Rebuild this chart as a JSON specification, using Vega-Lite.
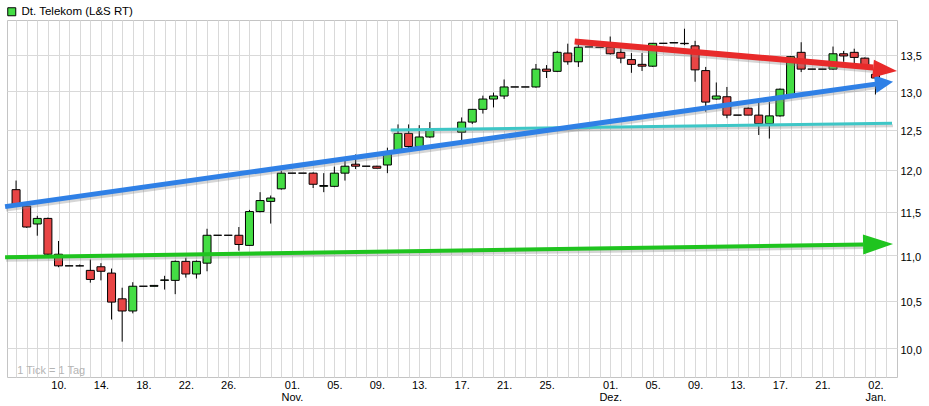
{
  "$schema": "https://vega.github.io/schema/vega-lite/v6.json",
  "width": 890,
  "height": 357,
  "autosize": {"type": "none"},
  "padding": {"left": 7, "top": 20, "right": 32, "bottom": 29},
  "background": "white",
  "config": {
    "view": {"stroke": "#c4c4c4", "strokeWidth": 1},
    "axis": {"labelFont": "Liberation Sans", "labelFontSize": 11, "labelColor": "#000000", "gridColor": "#d9d9d9", "gridWidth": 1, "domain": false, "ticks": false},
    "legend": {"labelFont": "Liberation Sans", "labelFontSize": 11, "labelColor": "#000000"}
  },
  "datasets": {
    "candles": [
      {"i": 0, "d": "2014-10-06", "o": 11.76, "h": 11.87, "l": 11.56, "c": 11.57},
      {"i": 1, "d": "2014-10-07", "o": 11.565, "h": 11.6, "l": 11.31, "c": 11.32},
      {"i": 2, "d": "2014-10-08", "o": 11.355, "h": 11.45, "l": 11.22, "c": 11.42},
      {"i": 3, "d": "2014-10-09", "o": 11.42, "h": 11.43, "l": 11.0, "c": 11.01},
      {"i": 4, "d": "2014-10-10", "o": 11.01, "h": 11.16, "l": 10.865, "c": 10.88},
      {"i": 5, "d": "2014-10-11", "o": 10.88, "h": 10.88, "l": 10.88, "c": 10.88},
      {"i": 6, "d": "2014-10-12", "o": 10.88, "h": 10.895, "l": 10.875, "c": 10.88},
      {"i": 7, "d": "2014-10-13", "o": 10.83, "h": 10.95, "l": 10.695, "c": 10.73},
      {"i": 8, "d": "2014-10-14", "o": 10.87, "h": 10.91, "l": 10.72, "c": 10.82},
      {"i": 9, "d": "2014-10-15", "o": 10.8, "h": 10.85, "l": 10.3, "c": 10.485},
      {"i": 10, "d": "2014-10-16", "o": 10.52, "h": 10.64, "l": 10.07, "c": 10.39},
      {"i": 11, "d": "2014-10-17", "o": 10.39, "h": 10.7, "l": 10.365, "c": 10.656},
      {"i": 12, "d": "2014-10-18", "o": 10.656, "h": 10.656, "l": 10.656, "c": 10.656},
      {"i": 13, "d": "2014-10-19", "o": 10.655, "h": 10.665, "l": 10.655, "c": 10.665},
      {"i": 14, "d": "2014-10-20", "o": 10.72, "h": 10.77, "l": 10.62, "c": 10.725},
      {"i": 15, "d": "2014-10-21", "o": 10.72, "h": 10.94, "l": 10.57, "c": 10.93},
      {"i": 16, "d": "2014-10-22", "o": 10.93, "h": 10.97, "l": 10.75, "c": 10.79},
      {"i": 17, "d": "2014-10-23", "o": 10.79, "h": 10.94, "l": 10.74, "c": 10.93},
      {"i": 18, "d": "2014-10-24", "o": 10.91, "h": 11.3, "l": 10.82, "c": 11.225},
      {"i": 19, "d": "2014-10-25", "o": 11.225, "h": 11.225, "l": 11.225, "c": 11.225},
      {"i": 20, "d": "2014-10-26", "o": 11.225, "h": 11.225, "l": 11.225, "c": 11.225},
      {"i": 21, "d": "2014-10-27", "o": 11.225, "h": 11.32, "l": 11.05, "c": 11.12},
      {"i": 22, "d": "2014-10-28", "o": 11.11, "h": 11.52, "l": 11.11, "c": 11.5},
      {"i": 23, "d": "2014-10-29", "o": 11.5, "h": 11.73, "l": 11.49, "c": 11.63},
      {"i": 24, "d": "2014-10-30", "o": 11.62, "h": 11.69, "l": 11.36, "c": 11.66},
      {"i": 25, "d": "2014-10-31", "o": 11.77, "h": 11.99, "l": 11.76, "c": 11.96},
      {"i": 26, "d": "2014-11-01", "o": 11.96, "h": 11.96, "l": 11.96, "c": 11.96},
      {"i": 27, "d": "2014-11-02", "o": 11.96, "h": 11.96, "l": 11.96, "c": 11.96},
      {"i": 28, "d": "2014-11-03", "o": 11.96, "h": 11.97, "l": 11.78, "c": 11.825},
      {"i": 29, "d": "2014-11-04", "o": 11.8, "h": 11.96, "l": 11.73, "c": 11.81},
      {"i": 30, "d": "2014-11-05", "o": 11.8, "h": 12.04, "l": 11.79, "c": 11.96},
      {"i": 31, "d": "2014-11-06", "o": 11.96, "h": 12.11, "l": 11.87, "c": 12.045},
      {"i": 32, "d": "2014-11-07", "o": 12.07, "h": 12.19, "l": 12.01, "c": 12.045},
      {"i": 33, "d": "2014-11-08", "o": 12.045, "h": 12.045, "l": 12.045, "c": 12.045},
      {"i": 34, "d": "2014-11-09", "o": 12.045, "h": 12.05, "l": 12.02, "c": 12.02},
      {"i": 35, "d": "2014-11-10", "o": 12.06, "h": 12.275, "l": 11.96, "c": 12.22},
      {"i": 36, "d": "2014-11-11", "o": 12.23, "h": 12.57, "l": 12.22, "c": 12.455},
      {"i": 37, "d": "2014-11-12", "o": 12.455, "h": 12.57, "l": 12.27, "c": 12.29},
      {"i": 38, "d": "2014-11-13", "o": 12.29, "h": 12.56, "l": 12.28, "c": 12.41},
      {"i": 39, "d": "2014-11-14", "o": 12.41, "h": 12.6, "l": 12.4, "c": 12.5},
      {"i": 40, "d": "2014-11-15", "o": 12.505, "h": 12.505, "l": 12.505, "c": 12.505},
      {"i": 41, "d": "2014-11-16", "o": 12.505, "h": 12.505, "l": 12.505, "c": 12.505},
      {"i": 42, "d": "2014-11-17", "o": 12.47, "h": 12.66, "l": 12.35, "c": 12.6},
      {"i": 43, "d": "2014-11-18", "o": 12.6, "h": 12.77, "l": 12.575, "c": 12.765},
      {"i": 44, "d": "2014-11-19", "o": 12.765, "h": 12.945, "l": 12.71, "c": 12.9},
      {"i": 45, "d": "2014-11-20", "o": 12.9, "h": 12.985, "l": 12.79, "c": 12.94},
      {"i": 46, "d": "2014-11-21", "o": 12.94, "h": 13.16, "l": 12.9, "c": 13.06},
      {"i": 47, "d": "2014-11-22", "o": 13.06, "h": 13.06, "l": 13.06, "c": 13.06},
      {"i": 48, "d": "2014-11-23", "o": 13.06, "h": 13.06, "l": 13.06, "c": 13.06},
      {"i": 49, "d": "2014-11-24", "o": 13.06, "h": 13.37, "l": 13.05, "c": 13.3},
      {"i": 50, "d": "2014-11-25", "o": 13.3, "h": 13.355, "l": 13.18, "c": 13.27},
      {"i": 51, "d": "2014-11-26", "o": 13.27, "h": 13.55, "l": 13.26, "c": 13.53},
      {"i": 52, "d": "2014-11-27", "o": 13.52, "h": 13.65, "l": 13.36, "c": 13.4},
      {"i": 53, "d": "2014-11-28", "o": 13.4, "h": 13.655, "l": 13.33, "c": 13.6},
      {"i": 54, "d": "2014-11-29", "o": 13.605, "h": 13.605, "l": 13.605, "c": 13.605},
      {"i": 55, "d": "2014-11-30", "o": 13.6, "h": 13.6, "l": 13.6, "c": 13.6},
      {"i": 56, "d": "2014-12-01", "o": 13.6, "h": 13.75, "l": 13.5, "c": 13.51},
      {"i": 57, "d": "2014-12-02", "o": 13.53, "h": 13.585, "l": 13.38, "c": 13.45},
      {"i": 58, "d": "2014-12-03", "o": 13.43, "h": 13.52, "l": 13.25, "c": 13.365},
      {"i": 59, "d": "2014-12-04", "o": 13.365, "h": 13.52, "l": 13.275, "c": 13.34},
      {"i": 60, "d": "2014-12-05", "o": 13.34, "h": 13.66, "l": 13.33, "c": 13.655},
      {"i": 61, "d": "2014-12-06", "o": 13.655, "h": 13.655, "l": 13.655, "c": 13.655},
      {"i": 62, "d": "2014-12-07", "o": 13.66, "h": 13.665, "l": 13.66, "c": 13.665},
      {"i": 63, "d": "2014-12-08", "o": 13.655, "h": 13.86, "l": 13.63, "c": 13.65},
      {"i": 64, "d": "2014-12-09", "o": 13.62, "h": 13.69, "l": 13.13, "c": 13.29},
      {"i": 65, "d": "2014-12-10", "o": 13.28, "h": 13.33, "l": 12.735, "c": 12.86},
      {"i": 66, "d": "2014-12-11", "o": 12.9, "h": 13.12, "l": 12.89, "c": 12.94},
      {"i": 67, "d": "2014-12-12", "o": 12.93, "h": 13.06, "l": 12.65, "c": 12.69},
      {"i": 68, "d": "2014-12-13", "o": 12.69, "h": 12.69, "l": 12.69, "c": 12.69},
      {"i": 69, "d": "2014-12-14", "o": 12.78, "h": 12.79, "l": 12.69, "c": 12.69},
      {"i": 70, "d": "2014-12-15", "o": 12.69, "h": 12.86, "l": 12.435, "c": 12.58},
      {"i": 71, "d": "2014-12-16", "o": 12.58, "h": 12.86, "l": 12.39, "c": 12.68},
      {"i": 72, "d": "2014-12-17", "o": 12.68, "h": 13.04, "l": 12.67, "c": 13.03},
      {"i": 73, "d": "2014-12-18", "o": 12.95, "h": 13.48, "l": 12.94, "c": 13.47},
      {"i": 74, "d": "2014-12-19", "o": 13.53, "h": 13.67, "l": 13.26, "c": 13.3},
      {"i": 75, "d": "2014-12-20", "o": 13.3, "h": 13.3, "l": 13.3, "c": 13.3},
      {"i": 76, "d": "2014-12-21", "o": 13.3, "h": 13.3, "l": 13.3, "c": 13.3},
      {"i": 77, "d": "2014-12-22", "o": 13.3, "h": 13.61, "l": 13.29, "c": 13.51},
      {"i": 78, "d": "2014-12-23", "o": 13.51, "h": 13.55, "l": 13.4, "c": 13.48},
      {"i": 79, "d": "2014-12-29", "o": 13.53, "h": 13.58, "l": 13.33, "c": 13.46},
      {"i": 80, "d": "2014-12-30", "o": 13.45, "h": 13.46, "l": 13.33, "c": 13.33},
      {"i": 81, "d": "2015-01-02", "o": 13.23, "h": 13.24, "l": 12.96, "c": 13.18}
    ],
    "trends": [
      {"line": "cyan", "i": 35.31, "v": 12.498},
      {"line": "cyan", "i": 82.56, "v": 12.584},
      {"line": "green", "i": -1.035, "v": 10.976},
      {"line": "green", "i": 79.86, "v": 11.121},
      {"line": "blue", "i": -1.035, "v": 11.558},
      {"line": "blue", "i": 81.17, "v": 13.101},
      {"line": "red", "i": 52.65, "v": 13.68},
      {"line": "red", "i": 80.79, "v": 13.323}
    ]
  },
  "encoding": {
    "x": {
      "field": "i",
      "type": "quantitative",
      "title": null,
      "scale": {"domain": [-0.383, 82.56], "nice": false, "zero": false},
      "axis": {
        "values": [0,1,2,3,4,5,6,7,8,9,10,11,12,13,14,15,16,17,18,19,20,21,22,23,24,25,26,27,28,29,30,31,32,33,34,35,36,37,38,39,40,41,42,43,44,45,46,47,48,49,50,51,52,53,54,55,56,57,58,59,60,61,62,63,64,65,66,67,68,69,70,71,72,73,74,75,76,77,78,79,80,81,82],
        "labelExpr": "datum.value==4?'10.':datum.value==8?'14.':datum.value==12?'18.':datum.value==16?'22.':datum.value==20?'26.':datum.value==26?['01.','Nov.']:datum.value==30?'05.':datum.value==34?'09.':datum.value==38?'13.':datum.value==42?'17.':datum.value==46?'21.':datum.value==50?'25.':datum.value==56?['01.','Dez.']:datum.value==60?'05.':datum.value==64?'09.':datum.value==68?'13.':datum.value==72?'17.':datum.value==76?'21.':datum.value==81?['02.','Jan.']:''",
        "grid": true,
        "labelPadding": 2,
        "labelLineHeight": 12,
        "labelOverlap": false,
        "labelFlush": false,
        "labelBound": false
      }
    }
  },
  "layer": [
    {
      "data": {"name": "candles"},
      "mark": {"type": "rule", "color": "#000000", "strokeWidth": 1},
      "encoding": {
        "y": {
          "field": "l",
          "type": "quantitative",
          "title": null,
          "scale": {"type": "log", "domain": [9.713, 13.984], "nice": false, "zero": false},
          "axis": {
            "orient": "right",
            "values": [10, 10.5, 11, 11.5, 12, 12.5, 13, 13.5],
            "labelExpr": "replace(format(datum.value,'.1f'),'.',',')",
            "grid": true,
            "labelPadding": 3,
            "labelOffset": 2
          }
        },
        "y2": {"field": "h"}
      }
    },
    {
      "data": {"name": "candles"},
      "mark": {"type": "bar", "width": 8, "stroke": "#000000", "strokeWidth": 1},
      "encoding": {
        "y": {"field": "o", "type": "quantitative", "title": null},
        "y2": {"field": "c"},
        "fill": {"condition": {"test": "datum.c > datum.o", "value": "#44dd44"}, "value": "#e84545"}
      }
    },
    {
      "data": {"name": "trends"},
      "mark": {"type": "line", "strokeCap": "butt", "color": "#8a8a8a", "opacity": 0.35, "xOffset": 1, "yOffset": 2.5},
      "encoding": {
        "y": {"field": "v", "type": "quantitative", "title": null},
        "detail": {"field": "line"},
        "strokeWidth": {"field": "line", "type": "nominal", "scale": {"domain": ["cyan", "green", "blue", "red"], "range": [3, 6, 4, 5]}, "legend": null}
      }
    },
    {
      "data": {"name": "trends"},
      "mark": {"type": "line", "strokeCap": "butt"},
      "encoding": {
        "y": {"field": "v", "type": "quantitative", "title": null},
        "detail": {"field": "line"},
        "color": {"field": "line", "type": "nominal", "scale": {"domain": ["cyan", "green", "blue", "red"], "range": ["#3ec6c6", "#1fc41f", "#2f80e6", "#e82a2a"]}, "legend": null},
        "strokeWidth": {"field": "line", "type": "nominal", "legend": null}
      }
    },
    {
      "data": {"values": [{"i": 82.66, "v": 11.125}]},
      "mark": {"type": "point", "shape": "M-2,-0.67L0,0L-2,0.67Z", "size": 900, "angle": -0.85, "filled": true, "fill": "#1fc41f", "opacity": 1, "strokeWidth": 0},
      "encoding": {"y": {"field": "v", "type": "quantitative", "title": null}}
    },
    {
      "data": {"values": [{"i": 82.66, "v": 13.13}]},
      "mark": {"type": "point", "shape": "M-2,-1L0,0L-2,1Z", "size": 324, "angle": -7.9, "filled": true, "fill": "#2f80e6", "opacity": 1, "strokeWidth": 0},
      "encoding": {"y": {"field": "v", "type": "quantitative", "title": null}}
    },
    {
      "data": {"values": [{"i": 83.03, "v": 13.275}]},
      "mark": {"type": "point", "shape": "M-2,-0.75L0,0L-2,0.75Z", "size": 576, "angle": 5.2, "filled": true, "fill": "#e82a2a", "opacity": 1, "strokeWidth": 0},
      "encoding": {"y": {"field": "v", "type": "quantitative", "title": null}}
    },
    {
      "data": {"values": [{"i": 0.11, "v": 9.773, "t": "1 Tick = 1 Tag"}]},
      "mark": {"type": "text", "align": "left", "baseline": "middle", "font": "Liberation Sans", "fontSize": 11, "color": "#b4b4b4"},
      "encoding": {"y": {"field": "v", "type": "quantitative", "title": null}, "text": {"field": "t"}}
    },
    {
      "data": {"values": [{"i": 0, "v": 10}]},
      "mark": {"type": "square", "opacity": 0},
      "encoding": {
        "y": {"field": "v", "type": "quantitative", "title": null},
        "fill": {
          "datum": "Dt. Telekom (L&S RT)",
          "scale": {"range": ["#44dd44"]},
          "legend": {"orient": "none", "legendX": -1, "legendY": -14, "title": null, "symbolType": "square", "symbolSize": 64, "symbolStrokeColor": "#000000", "symbolStrokeWidth": 1, "symbolOpacity": 1, "labelOffset": 4, "labelFontSize": 11.5, "padding": 0}
        }
      }
    }
  ]
}
